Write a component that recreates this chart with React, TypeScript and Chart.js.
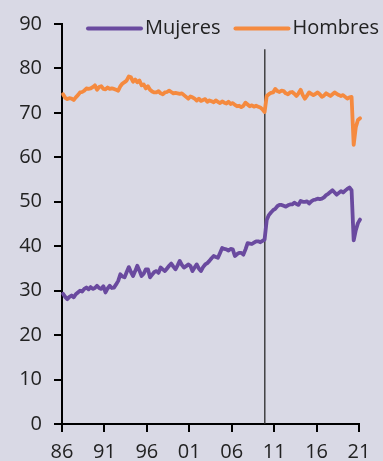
import React, { useEffect, useRef } from "react";
import { Chart, registerables } from "chart.js";

Chart.register(...registerables);

// Quarterly observations, 1986 T1 .. 2021 T1
const firstYear = 1986;
const lastYear = 2021;

const mujeres = [
  29.3, 28.6, 28.1, 28.6,
  28.9, 28.5, 29.2, 29.6,
  30.0, 29.8, 30.4, 30.7,
  30.3, 30.8, 30.4, 30.6,
  31.1, 30.6, 30.4, 31.0,
  29.6, 30.5, 31.1, 30.6,
  30.7, 31.4, 32.2, 33.7,
  33.2, 33.0, 34.2, 35.3,
  34.2, 33.3, 34.4, 35.6,
  34.5, 33.3, 33.8, 34.8,
  34.8, 33.0, 33.6, 34.2,
  34.4, 34.0, 35.2, 34.8,
  34.4, 35.0, 35.6, 36.1,
  35.4, 34.8, 35.7, 36.7,
  35.8, 35.2, 35.5, 35.9,
  35.6, 34.4, 35.2, 35.9,
  35.0, 34.4, 35.3, 35.9,
  36.2, 36.7, 37.3, 37.8,
  37.6, 37.4, 38.5, 39.6,
  39.4, 39.3, 39.0, 39.4,
  39.3, 37.8, 38.2, 38.5,
  38.5, 38.1, 39.3, 40.7,
  40.6, 40.5, 40.8, 41.1,
  41.1, 40.9, 41.2, 41.5,
  45.9, 47.0, 47.6, 48.1,
  48.4, 49.0, 49.3, 49.3,
  49.1, 48.9, 49.2, 49.4,
  49.4, 49.8, 49.5, 49.3,
  50.2, 50.0, 50.0, 50.1,
  49.6, 50.1, 50.4, 50.5,
  50.7, 50.6, 50.7, 51.0,
  51.5, 51.8, 52.2, 52.6,
  52.1, 51.6, 52.0, 52.4,
  52.1, 52.5, 52.9, 53.2,
  52.6, 41.3, 43.6, 45.2,
  46.0,
];

const hombres = [
  74.2, 73.4, 73.1, 73.3,
  73.2, 72.9, 73.5, 74.0,
  74.6, 74.7, 75.0, 75.5,
  75.4, 75.5, 75.8, 76.2,
  75.2, 75.8, 76.0, 75.4,
  75.3, 75.7, 75.4, 75.5,
  75.4, 75.2, 75.0, 76.0,
  76.6, 76.9, 77.3, 78.2,
  78.0, 77.0, 77.5, 76.9,
  77.3, 76.2, 76.4, 75.5,
  76.0, 75.2, 74.8, 74.6,
  74.6, 74.9, 74.4, 74.2,
  74.6, 74.7, 75.0, 74.7,
  74.4, 74.5, 74.4, 74.3,
  74.4, 74.0, 73.6, 73.2,
  73.7, 73.5, 73.2, 72.8,
  73.2, 72.7, 72.9, 73.1,
  72.5, 72.8, 72.6, 72.4,
  72.8, 72.5, 72.2, 72.6,
  72.3, 72.1, 72.5, 72.0,
  72.2, 71.8, 71.5, 71.6,
  71.3, 71.6, 72.3, 71.9,
  71.5, 71.7, 71.4, 71.6,
  71.4, 71.2, 70.8, 70.2,
  73.8, 74.2, 74.5, 74.6,
  75.4, 74.9, 74.7, 75.0,
  74.9, 74.4, 74.2, 74.6,
  74.7, 74.3, 73.8, 74.4,
  75.2, 74.0, 73.2, 73.9,
  74.6, 74.3, 74.0, 74.3,
  74.6, 74.2, 73.6, 73.9,
  74.4, 74.1, 73.8, 74.2,
  74.6, 74.3, 74.0, 73.8,
  74.0, 73.6, 73.2, 73.5,
  73.6, 62.8, 66.8, 68.4,
  68.8,
];

// quarter categories ("1986-T1", ...), positioned at mid-quarter on the time axis
const quarters: string[] = [];
for (let y = firstYear; y <= lastYear; y++) {
  for (let q = 1; q <= 4; q++) quarters.push(`${y}-T${q}`);
}
const quarterToX = (label: string) => {
  const [y, q] = label.split("-T");
  return Number(y) + (Number(q) - 0.5) / 4;
};

const xTickYears = [1986, 1991, 1996, 2001, 2006, 2011, 2016, 2021];
const xTickLabels = ["86", "91", "96", "01", "06", "11", "16", "21"];
const yTicks = [0, 10, 20, 30, 40, 50, 60, 70, 80, 90];

const breakYear = 2009.9;
const breakLineTop = 84.3;

const seriesLabels = ["Mujeres", "Hombres"];
const seriesColors = ["#6a4a9f", "#f58a3f"];

const FONT = "'Open Sans', 'Noto Sans', sans-serif";
const BG = "#d9d9e5";

const legendPlugin = {
  id: "topLegend",
  afterDraw(chart: any) {
    const ctx = chart.ctx;
    ctx.save();
    ctx.font = `20px ${FONT}`;
    ctx.textBaseline = "middle";
    ctx.textAlign = "left";
    let x = 87;
    const y = 28.5;
    seriesLabels.forEach((label, i) => {
      ctx.strokeStyle = seriesColors[i];
      ctx.lineWidth = 4;
      ctx.lineCap = "round";
      ctx.beginPath();
      ctx.moveTo(x + 1, y);
      ctx.lineTo(x + 54, y);
      ctx.stroke();
      ctx.fillStyle = "#222222";
      ctx.fillText(label, x + 58, y);
      x += 58 + ctx.measureText(label).width + 14;
    });
    ctx.restore();
  },
};

export default function App() {
  const canvasRef = useRef<HTMLCanvasElement | null>(null);

  useEffect(() => {
    if (!canvasRef.current) return;
    const toPoints = (vals: number[]) =>
      vals.map((v, i) => ({ x: quarterToX(quarters[i]), y: v }));

    const chart = new Chart(canvasRef.current, {
      type: "line",
      data: {
        datasets: [
          {
            label: seriesLabels[0],
            data: toPoints(mujeres),
            borderColor: seriesColors[0],
            backgroundColor: seriesColors[0],
            borderWidth: 3.8,
            pointRadius: 0,
            tension: 0,
            borderJoinStyle: "round",
            borderCapStyle: "round",
            clip: false,
          },
          {
            label: seriesLabels[1],
            data: toPoints(hombres),
            borderColor: seriesColors[1],
            backgroundColor: seriesColors[1],
            borderWidth: 3.8,
            pointRadius: 0,
            tension: 0,
            borderJoinStyle: "round",
            borderCapStyle: "round",
            clip: false,
          },
          {
            label: "break",
            data: [
              { x: breakYear, y: 0 },
              { x: breakYear, y: breakLineTop },
            ],
            borderColor: "#2a2a2a",
            borderWidth: 1.3,
            pointRadius: 0,
          },
        ],
      },
      options: {
        animation: false,
        responsive: true,
        maintainAspectRatio: false,
        layout: { padding: { top: 21, right: 24, left: 0, bottom: 0 } },
        plugins: {
          legend: { display: false },
          tooltip: { enabled: false },
        },
        scales: {
          x: {
            type: "linear",
            min: firstYear,
            max: lastYear,
            afterBuildTicks: (scale: any) => {
              scale.ticks = xTickYears.map((v) => ({ value: v }));
            },
            afterFit: (scale: any) => {
              scale.height = 37;
            },
            ticks: {
              autoSkip: false,
              maxRotation: 0,
              padding: 8,
              color: "#222222",
              font: { family: FONT, size: 20 },
              callback: (v: any) => xTickLabels[xTickYears.indexOf(Number(v))] ?? "",
            },
            grid: {
              display: true,
              drawOnChartArea: false,
              drawTicks: true,
              tickLength: 8,
              color: "#000000",
              lineWidth: 2,
            },
            border: { display: true, color: "#000000", width: 2 },
          },
          y: {
            min: 0,
            max: 90,
            afterBuildTicks: (scale: any) => {
              scale.ticks = yTicks.map((v) => ({ value: v }));
            },
            afterFit: (scale: any) => {
              scale.width = 62;
            },
            ticks: {
              padding: 12,
              color: "#222222",
              font: { family: FONT, size: 20 },
            },
            grid: {
              display: true,
              drawOnChartArea: false,
              drawTicks: true,
              tickLength: 8,
              color: "#000000",
              lineWidth: 2,
            },
            border: { display: true, color: "#000000", width: 2 },
          },
        },
      },
      plugins: [legendPlugin],
    });
    return () => chart.destroy();
  }, []);

  return (
    <div
      style={{
        position: "fixed",
        left: 0,
        top: 0,
        width: 383,
        height: 461,
        background: BG,
      }}
    >
      <canvas ref={canvasRef} />
    </div>
  );
}
